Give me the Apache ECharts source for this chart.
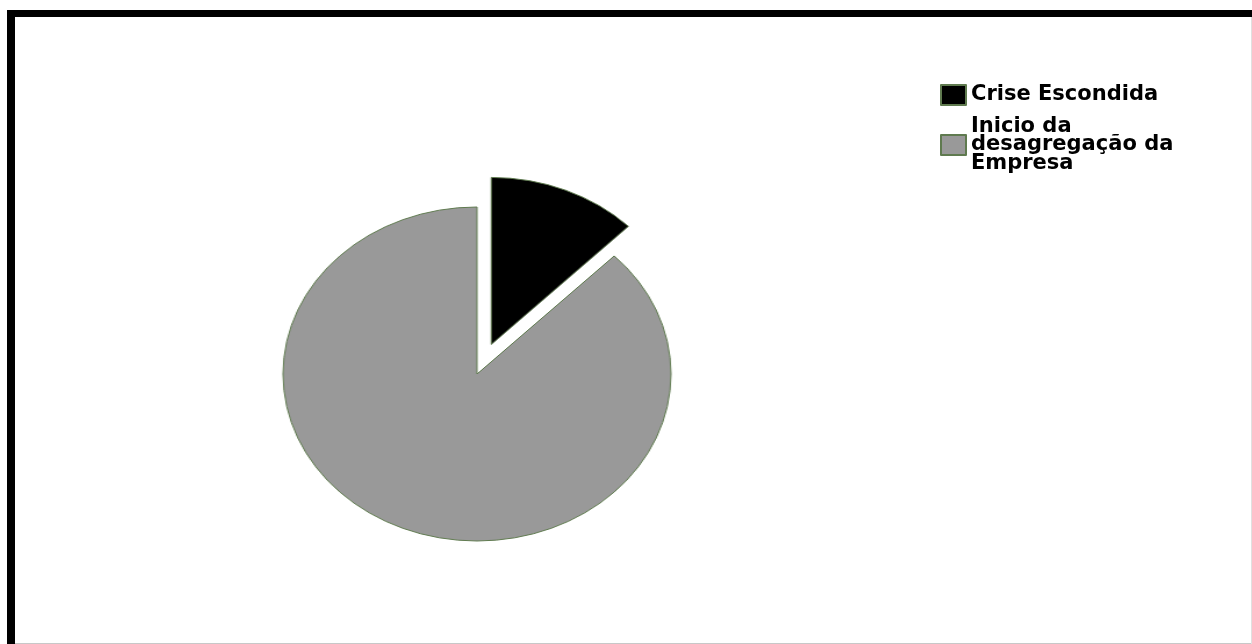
<!DOCTYPE html>
<html>
<head>
<meta charset="utf-8">
<script src="https://cdn.jsdelivr.net/npm/echarts@6/dist/echarts.min.js"></script>
<style>
  html, body { margin: 0; padding: 0; background: #fff; }
  #wrap { position: relative; width: 1252px; height: 644px; overflow: hidden; }
  #legendChart { position: absolute; left: 0; top: 0; width: 1252px; height: 644px; }
  #pieChart { position: absolute; left: 0; top: 0; width: 1252px; height: 644px;
              transform: scaleX(1.1617); transform-origin: 477px 0; }
</style>
</head>
<body>
<div id="wrap">
  <div id="legendChart"></div>
  <div id="pieChart"></div>
</div>
<script>
const categories = ['Crise Escondida', 'Inicio da\ndesagregação da\nEmpresa'];
const values = [12.5, 87.5];
const colors = ['#000000', '#999999'];
const borderColor = '#5f7a4f';

function buildData() {
  return categories.map((name, i) => ({
    name: name,
    value: values[i],
    selected: i === 0,
    itemStyle: { color: colors[i], borderColor: borderColor, borderWidth: 1 }
  }));
}

const legendChart = echarts.init(document.getElementById('legendChart'), null, { renderer: 'canvas' });
legendChart.setOption({
  animation: false,
  backgroundColor: '#ffffff',
  graphic: [
    { type: 'rect', shape: { x: 7, y: 10, width: 1245, height: 7 }, style: { fill: '#000' } },
    { type: 'rect', shape: { x: 7, y: 10, width: 8, height: 634 }, style: { fill: '#000' } },
    { type: 'rect', shape: { x: 15, y: 643, width: 1237, height: 1 }, style: { fill: '#c8c8c8' } },
    { type: 'rect', shape: { x: 1251, y: 17, width: 1, height: 627 }, style: { fill: '#e0e0e0' } }
  ],
  legend: {
    orient: 'vertical',
    left: 940,
    top: 84,
    padding: 0,
    itemWidth: 25,
    itemHeight: 20,
    itemGap: 10,
    icon: 'rect',
    selectedMode: false,
    data: categories,
    textStyle: {
      fontFamily: 'DejaVu Sans',
      fontWeight: 'bold',
      fontSize: 21,
      lineHeight: 18.5,
      color: '#000'
    }
  },
  series: [{
    type: 'pie',
    center: [-200, -200],
    radius: [0, 0],
    silent: true,
    label: { show: false },
    labelLine: { show: false },
    data: buildData()
  }]
});

const pieChart = echarts.init(document.getElementById('pieChart'), null, { renderer: 'canvas' });
pieChart.setOption({
  animation: false,
  series: [{
    type: 'pie',
    center: [477, 374],
    radius: 167,
    startAngle: 90,
    clockwise: true,
    selectedMode: 'single',
    selectedOffset: 32,
    silent: true,
    label: { show: false },
    labelLine: { show: false },
    emphasis: { disabled: true },
    data: buildData()
  }]
});
</script>
</body>
</html>
